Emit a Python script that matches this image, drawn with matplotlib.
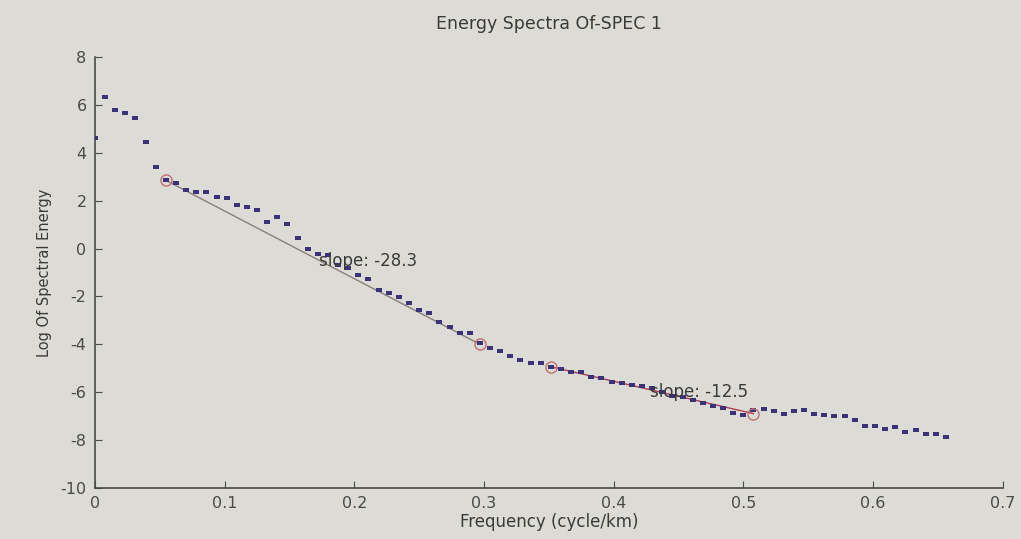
import numpy as np
import matplotlib
matplotlib.use("Agg")
import matplotlib.pyplot as plt

plt.rcParams["axes.unicode_minus"] = False

# ---- data ----
df = 1.0 / 128.0
log_energy = [
    4.64, 6.35, 5.79, 5.66, 5.45, 4.47, 3.40, 2.85, 2.72, 2.43,
    2.38, 2.38, 2.17, 2.10, 1.80, 1.75, 1.60, 1.10, 1.30, 1.04,
    0.43, 0.00, -0.24, -0.28, -0.68, -0.80, -1.12, -1.28, -1.72, -1.84,
    -2.04, -2.26, -2.55, -2.68, -3.06, -3.28, -3.53, -3.53, -3.96, -4.14,
    -4.29, -4.49, -4.65, -4.78, -4.78, -4.94, -5.02, -5.14, -5.14, -5.35,
    -5.43, -5.59, -5.63, -5.71, -5.76, -5.84, -6.00, -6.16, -6.20, -6.33,
    -6.45, -6.57, -6.65, -6.86, -6.94, -6.73, -6.69, -6.80, -6.90, -6.80,
    -6.73, -6.90, -6.94, -7.00, -7.00, -7.16, -7.40, -7.40, -7.55, -7.47,
    -7.67, -7.60, -7.76, -7.76, -7.88,
]
frequency = [i * df for i in range(len(log_energy))]

seg1_x = [7 * df, 38 * df]
seg1_y = [2.85, -4.00]
seg2_x = [45 * df, 65 * df]
seg2_y = [-4.94, -6.90]
slope_labels = ["slope: -28.3", "slope: -12.5"]
slope_label_pos = [(0.173, -0.5), (0.428, -6.0)]

title = "Energy Spectra Of-SPEC 1"
xlabel = "Frequency (cycle/km)"
ylabel = "Log Of Spectral Energy"
xticks = [0, 0.1, 0.2, 0.3, 0.4, 0.5, 0.6, 0.7]
xticklabels = ["0", "0.1", "0.2", "0.3", "0.4", "0.5", "0.6", "0.7"]
yticks = [-10, -8, -6, -4, -2, 0, 2, 4, 6, 8]

# ---- style ----
bg = "#dcdbd5"
ink = "#4a4a48"
point_color = "#3a3379"
rect_marker = [(-1.5, -1.0), (1.5, -1.0), (1.5, 1.0), (-1.5, 1.0), (-1.5, -1.0)]

fig = plt.figure(figsize=(10.21, 5.39), dpi=100, facecolor=bg)
ax = fig.add_axes([0.093, 0.095, 0.889, 0.799])
ax.set_facecolor(bg)

ax.plot(seg1_x, seg1_y, color="#8a7f78", lw=1.0, zorder=2)
ax.plot(seg2_x, seg2_y, color="#b04050", lw=1.0, zorder=2)
ax.plot(frequency, log_energy, linestyle="none", marker=rect_marker,
        markersize=5.0, markeredgewidth=0, color=point_color, zorder=3)
ax.plot(seg1_x + seg2_x, seg1_y + seg2_y, linestyle="none", marker="o",
        markersize=8, markerfacecolor="none", markeredgecolor="#c07070",
        markeredgewidth=1.0, zorder=4)

for txt, (tx, ty) in zip(slope_labels, slope_label_pos):
    ax.text(tx, ty, txt, color="#3a3a3a", fontsize=12, va="center", ha="left",
            zorder=5)

ax.set_xlim(0, 0.7)
ax.set_ylim(-10, 8)
ax.set_xticks(xticks)
ax.set_xticklabels(xticklabels)
ax.set_yticks(yticks)
for s in ["top", "right"]:
    ax.spines[s].set_visible(False)
for s in ["left", "bottom"]:
    ax.spines[s].set_color(ink)
    ax.spines[s].set_linewidth(1.2)
ax.tick_params(direction="in", length=5, color=ink, labelcolor=ink,
               labelsize=11.5, pad=6)

ax.set_title(title, color="#3a3a3a", fontsize=12.5, pad=20)
ax.set_xlabel(xlabel, color="#3a3a3a", fontsize=12, labelpad=1)
ax.set_ylabel(ylabel, color="#3a3a3a", fontsize=10.5, labelpad=6)

fig.savefig("out.png", dpi=100, facecolor=bg)
